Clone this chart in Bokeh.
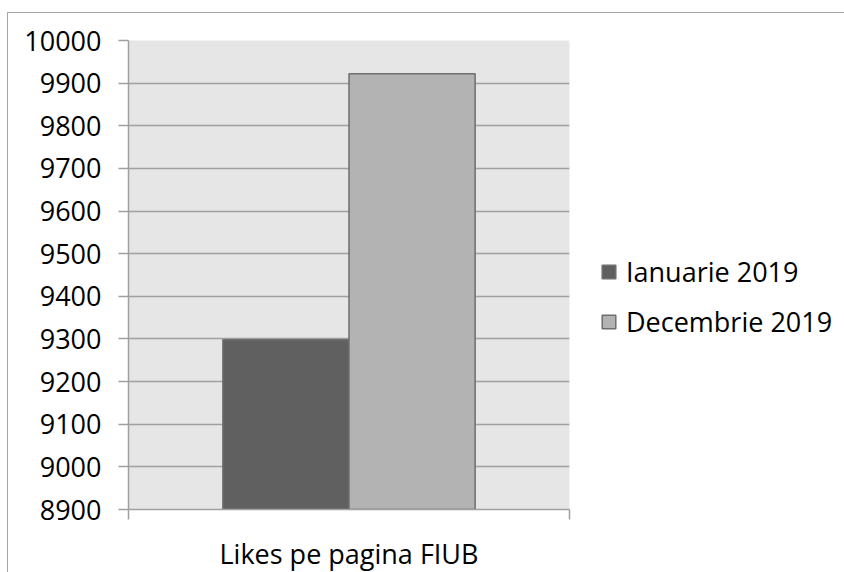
from bokeh.plotting import figure
from bokeh.models import (Range1d, FixedTicker, SingleIntervalTicker, Legend, LegendItem,
                          ColumnDataSource, InlineStyleSheet)
from bokeh.embed import file_html
from bokeh.resources import INLINE

categories = ["Likes pe pagina FIUB"]
series_names = ["Ianuarie 2019", "Decembrie 2019"]
ianuarie_2019 = [9298]
decembrie_2019 = [9922]
colors = ["#606060", "#b3b3b3"]

FONT = "Open Sans"
n = len(categories)
group_w = 0.572
bar_w = group_w / 2

p = figure(frame_width=441, frame_height=469, output_backend="svg", toolbar_location=None,
           x_range=Range1d(0, n), y_range=Range1d(8900, 10000),
           min_border_left=128, min_border_top=40, min_border_bottom=10,
           min_border_right=0)
p.background_fill_color = "#e6e6e6"
p.border_fill_color = "white"
p.outline_line_color = None

renderers = []
for k, (name, vals) in enumerate(zip(series_names, [ianuarie_2019, decembrie_2019])):
    xs = [i + 0.5 + (k - 0.5) * bar_w for i in range(n)]
    src = ColumnDataSource(dict(x=xs, top=vals))
    r = p.vbar(x="x", top="top", bottom=8900, width=bar_w, source=src,
               fill_color=colors[k], line_color="#6e6e6e", line_width=1.5)
    renderers.append((name, r))

# y axis
p.yaxis.ticker = SingleIntervalTicker(interval=100, num_minor_ticks=0)
p.yaxis.axis_line_color = "#a0a0a0"
p.yaxis.axis_line_width = 1.5
p.yaxis.major_tick_line_color = "#a0a0a0"
p.yaxis.major_tick_line_width = 1.5
p.yaxis.major_tick_in = 0
p.yaxis.major_tick_out = 10
p.yaxis.minor_tick_line_color = None
p.yaxis.major_label_standoff = 17
p.yaxis.major_label_text_font = FONT
p.yaxis.major_label_text_font_size = "27px"
p.yaxis.major_label_text_color = "black"

# x axis
p.xaxis.ticker = FixedTicker(ticks=[i + 0.5 for i in range(n)],
                             minor_ticks=[float(i) for i in range(n + 1)])
p.xaxis.major_label_overrides = {i + 0.5: c for i, c in enumerate(categories)}
p.xaxis.axis_line_color = "#a0a0a0"
p.xaxis.axis_line_width = 1.5
p.xaxis.major_tick_line_color = None
p.xaxis.minor_tick_line_color = "#a0a0a0"
p.xaxis.minor_tick_line_width = 1.5
p.xaxis.minor_tick_in = 0
p.xaxis.minor_tick_out = 10
p.xaxis.major_label_standoff = 15
p.xaxis.major_label_text_font = FONT
p.xaxis.major_label_text_font_size = "27px"
p.xaxis.major_label_text_color = "black"

p.xgrid.grid_line_color = None
p.ygrid.grid_line_color = "#a0a0a0"
p.ygrid.grid_line_width = 1.5

legend = Legend(items=[LegendItem(label=nm, renderers=[r]) for nm, r in renderers],
                location=(31, 168), orientation="vertical",
                glyph_width=17, glyph_height=17, label_height=40, spacing=10,
                label_standoff=9, padding=0, margin=0,
                border_line_color=None, background_fill_alpha=0,
                label_text_font=FONT, label_text_font_size="27px",
                label_text_color="black")
p.add_layout(legend, "right")

# outer chart-area border (top and left edges visible)
p.stylesheets = [InlineStyleSheet(css="""
:host::after { content: ''; position: absolute; left: 7px; top: 12px;
  width: 2000px; height: 2000px; border-top: 1.5px solid #a6a6a6;
  border-left: 1.5px solid #a6a6a6; pointer-events: none; z-index: 5; }
:host { position: relative; overflow: hidden; }
""")]

open("out.html", "w").write(file_html(p, INLINE))
